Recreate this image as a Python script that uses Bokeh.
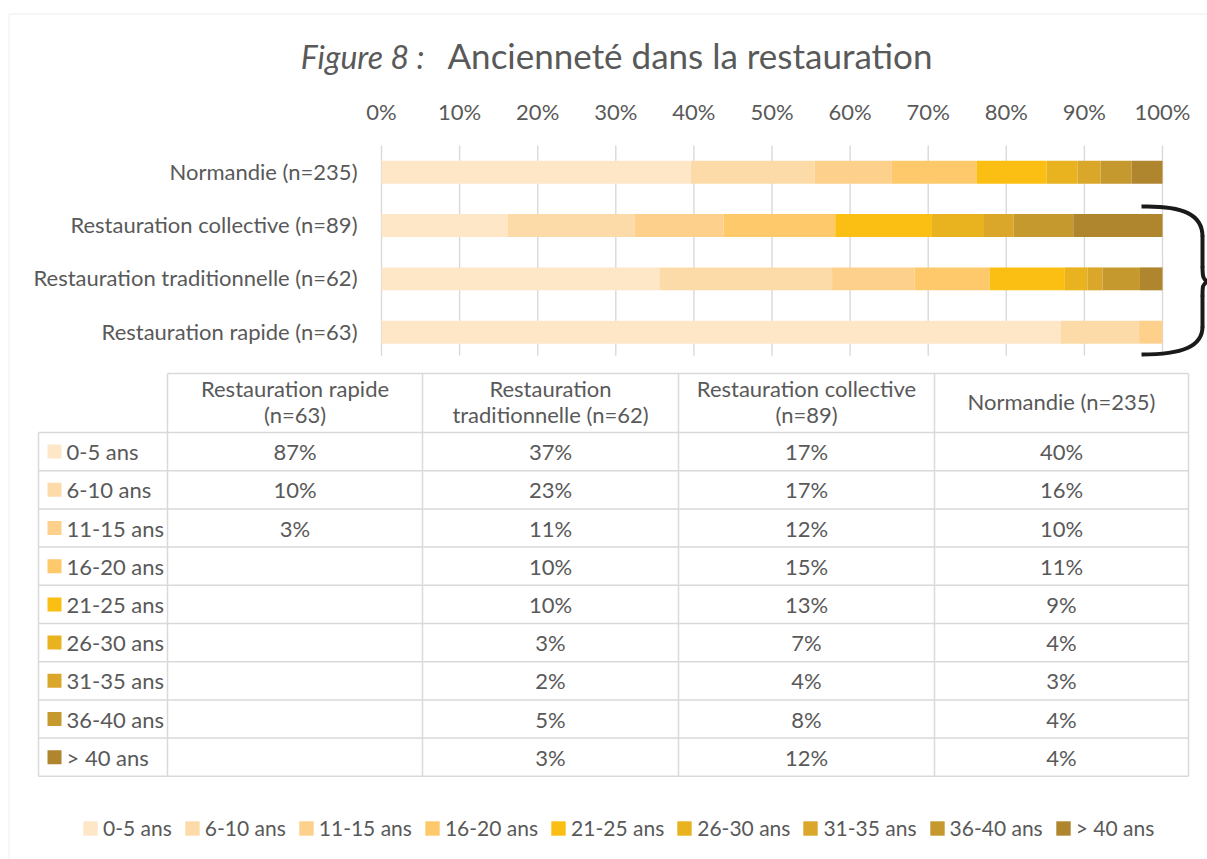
from bokeh.plotting import figure
from bokeh.models import (Range1d, LinearAxis, FixedTicker, Legend,
                          LegendItem, ColumnDataSource, BoxAnnotation)
from bokeh.core.properties import value
from bokeh.embed import file_html
from bokeh.resources import INLINE

# ---------------- data ----------------
title_italic = "Figure 8 :"
title_main = "Ancienneté dans la restauration"

bands = ["0-5 ans", "6-10 ans", "11-15 ans", "16-20 ans", "21-25 ans",
         "26-30 ans", "31-35 ans", "36-40 ans", "> 40 ans"]
colors = ["#FEE7C7", "#FDDBA9", "#FDD18C", "#FDC96B", "#FBBF13",
          "#E9B21F", "#DBA72B", "#C6992F", "#AF862E"]

rapide = [87, 10, 3, None, None, None, None, None, None]
traditionnelle = [37, 23, 11, 10, 10, 3, 2, 5, 3]
collective = [17, 17, 12, 15, 13, 7, 4, 8, 12]
normandie = [40, 16, 10, 11, 9, 4, 3, 4, 4]

table_headers = ["Restauration rapide\n(n=63)", "Restauration\ntraditionnelle (n=62)",
                 "Restauration collective\n(n=89)", "Normandie (n=235)"]
bar_labels = ["Normandie (n=235)", "Restauration collective (n=89)",
              "Restauration traditionnelle (n=62)", "Restauration rapide (n=63)"]

tick_values = [0, 10, 20, 30, 40, 50, 60, 70, 80, 90, 100]
tick_labels = ["0%", "10%", "20%", "30%", "40%", "50%", "60%", "70%", "80%", "90%", "100%"]

# ---------------- style ----------------
FONT = "Lato"
TXT = "#595959"
GRID = "#D9D9D9"
FS = "22px"

W, H = 1207, 859
X0PX, PXPCT = 381.0, 7.81          # pixel of 0 % and pixels per percent
Y0PX, BAND = 171.7, 53.33          # pixel of first bar centre and band step

p = figure(width=W, height=H, output_backend="svg", toolbar_location=None,
           x_range=Range1d((0 - X0PX) / PXPCT, (W - X0PX) / PXPCT),
           y_range=Range1d((H - Y0PX) / BAND, (0 - Y0PX) / BAND),
           x_axis_type=None, y_axis_type=None,
           min_border_left=0, min_border_right=0, min_border_bottom=0,
           min_border_top=0, outline_line_color=None,
           background_fill_color="white", border_fill_color="white")
p.extra_x_ranges = {"px": Range1d(0, W)}
p.extra_y_ranges = {"px": Range1d(H, 0)}
PX = dict(x_range_name="px", y_range_name="px")

# border of chart area
p.add_layout(BoxAnnotation(left=8.5, right=1300, top=13.5, bottom=1000,
                           fill_alpha=0, line_color=GRID, line_width=1.5, **PX))

# title (baselines aligned)
p.text(x=[424], y=[55.6], text=[title_italic], text_align="right",
       text_baseline="middle", text_font=value(FONT), text_font_size="32px",
       text_font_style="italic", text_color=TXT, **PX)
p.text(x=[447], y=[54.5], text=[title_main], text_align="left",
       text_baseline="middle", text_font=value(FONT), text_font_size="35px",
       text_color=TXT, **PX)

# top percentage axis, drawn just above the bars
ax = LinearAxis(ticker=FixedTicker(ticks=tick_values),
                major_label_overrides={t: l for t, l in zip(tick_values, tick_labels)},
                fixed_location=(140 - Y0PX) / BAND,
                axis_line_color=None, major_tick_line_color=None,
                minor_tick_line_color=None, major_label_text_color=TXT,
                major_label_text_font=FONT, major_label_text_font_size=FS,
                major_label_standoff=10)
p.add_layout(ax, "above")

# vertical grid lines (bars area only)
ncat = len(bar_labels)
p.segment(x0=tick_values, x1=tick_values, y0=[-0.5] * len(tick_values),
          y1=[ncat - 0.56] * len(tick_values), line_color=GRID, line_width=1.4)

# stacked 100% bars
rows_display = [normandie, collective, traditionnelle, rapide]
ypos = list(range(ncat))
shares = []
for row in rows_display:
    tot = sum(v or 0 for v in row)
    shares.append([(v or 0) / tot * 100 for v in row])
cum = [0.0] * ncat
renderers = []
for j, band in enumerate(bands):
    left = cum[:]
    right = [cum[i] + shares[i][j] for i in range(ncat)]
    src = ColumnDataSource(dict(y=ypos, left=left, right=right))
    r = p.hbar(y="y", left="left", right="right", height=0.43, source=src,
               fill_color=colors[j], line_color=None)
    renderers.append(r)
    cum = right

# category labels
p.text(x=[0] * ncat, y=ypos, text=bar_labels, text_align="right",
       text_baseline="middle", x_offset=-24, y_offset=-1, text_font=value(FONT),
       text_font_size=FS, text_color=TXT)

# ---------------- data table ----------------
col_edges = [38, 167, 422, 678, 934, 1188]
header_top = 373
row_top = 432
row_h = 38.2
nrows = len(bands)
row_bottom = row_top + nrows * row_h

hx0, hx1, hy = [col_edges[1]], [col_edges[-1]], [header_top]
for k in range(nrows + 1):
    hx0.append(col_edges[0]); hx1.append(col_edges[-1]); hy.append(row_top + k * row_h)
p.segment(x0=hx0, x1=hx1, y0=hy, y1=hy, line_color=GRID, line_width=1.5, **PX)
vx = col_edges
vy0 = [row_top] + [header_top] * (len(col_edges) - 1)
p.segment(x0=vx, x1=vx, y0=vy0, y1=[row_bottom] * len(vx), line_color=GRID,
          line_width=1.5, **PX)

col_centers = [(col_edges[c] + col_edges[c + 1]) / 2 for c in range(1, 5)]
row_centers = [row_top + (k + 0.5) * row_h for k in range(nrows)]

# header
p.text(x=col_centers, y=[(header_top + row_top) / 2 - 1.5] * 4, text=table_headers,
       text_align="center", text_baseline="middle", text_line_height=0.98,
       text_font=value(FONT), text_font_size=FS, text_color=TXT, **PX)

# values
table_cols = [rapide, traditionnelle, collective, normandie]
tx, ty, tt = [], [], []
for c, col in enumerate(table_cols):
    for k, v in enumerate(col):
        tx.append(col_centers[c]); ty.append(row_centers[k])
        tt.append("" if v is None else f"{v}%")
p.text(x=tx, y=ty, text=tt, text_align="center", text_baseline="middle",
       text_font=value(FONT), text_font_size=FS, text_color=TXT, **PX)

# row legend keys
p.rect(x=[54] * nrows, y=row_centers, width=14, height=14, fill_color=colors,
       line_color=None, **PX)
p.text(x=[66] * nrows, y=row_centers, text=bands, text_align="left",
       text_baseline="middle", text_font=value(FONT), text_font_size=FS,
       text_color=TXT, **PX)

# bracket grouping the three restauration types
BR = dict(line_color="#1A1A1A", line_width=4, **PX)
p.bezier(x0=[1141, 1202], y0=[206, 326], x1=[1202, 1141], y1=[236, 354],
         cx0=[1182, 1202], cy0=[205, 346], cx1=[1202, 1182], cy1=[214, 354], **BR)
p.segment(x0=[1202, 1202], y0=[235, 295], x1=[1202, 1202], y1=[267, 327], **BR)
p.bezier(x0=[1202, 1207], y0=[266, 281], x1=[1207, 1202], y1=[281, 296],
         cx0=[1202, 1202], cy0=[277, 284], cx1=[1203, 1202], cy1=[279, 285], **BR)

# bottom legend
legend = Legend(items=[LegendItem(label=b, renderers=[r]) for b, r in zip(bands, renderers)],
                orientation="horizontal", location=(81, 19), glyph_width=18,
                glyph_height=18, label_text_font=FONT, label_text_font_size="21px",
                label_text_color=TXT, label_standoff=4, spacing=11, padding=0,
                margin=0, border_line_color=None, background_fill_alpha=0)
p.add_layout(legend)

open("out.html", "w").write(file_html(p, INLINE))
